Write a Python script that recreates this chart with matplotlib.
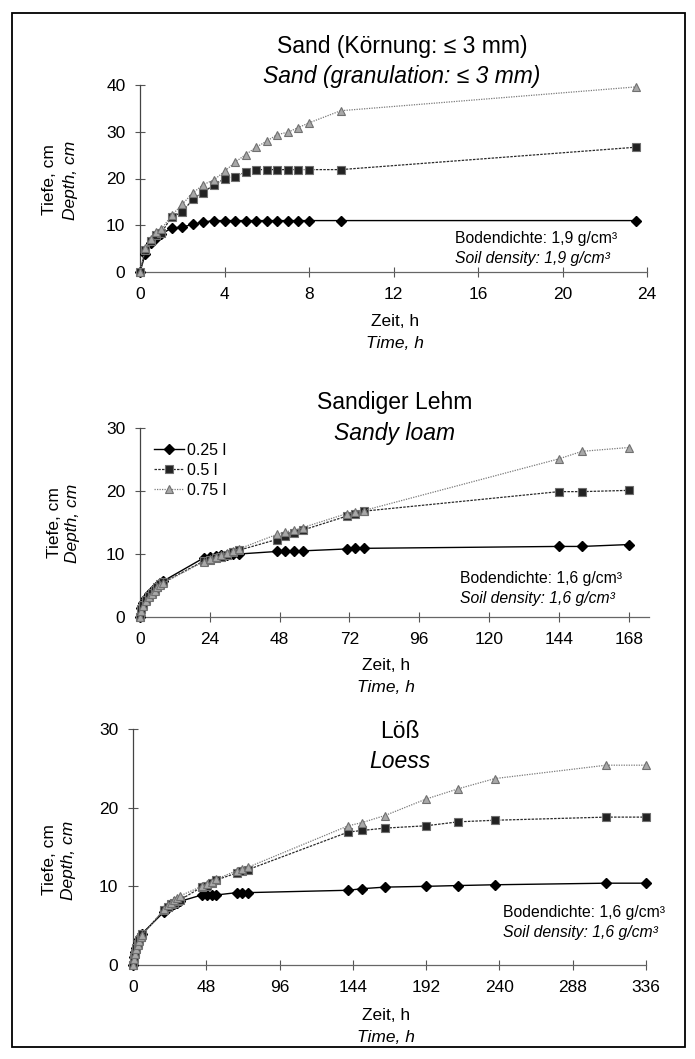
import matplotlib
matplotlib.use("Agg")
import matplotlib.pyplot as plt
from matplotlib.patches import Rectangle

plt.rcParams['font.family'] = ['Liberation Sans', 'DejaVu Sans']

# --- data: Sand (granulation <= 3 mm), hours / cm ---
sand_t = [0, 0.25, 0.5, 0.75, 1, 1.5, 2, 2.5, 3, 3.5, 4, 4.5, 5, 5.5, 6, 6.5, 7, 7.5, 8, 9.5, 23.5]
sand_025 = [0, 3.9, 6.3, 7.3, 8.1, 9.4, 9.6, 10.2, 10.7, 11.0, 11.0, 11.0, 11.0, 11.0, 11.0, 11.0, 11.0, 11.0, 11.0, 11.0, 11.0]
sand_05 = [0, 4.6, 6.6, 8.0, 8.3, 11.8, 12.8, 15.6, 17.0, 18.7, 19.9, 20.4, 21.4, 21.9, 21.9, 21.9, 21.9, 21.9, 21.9, 21.9, 26.7]
sand_075 = [0, 5.1, 7.1, 8.6, 9.1, 12.1, 14.5, 16.9, 18.7, 19.7, 21.5, 23.5, 25.1, 26.7, 28.0, 29.4, 29.9, 30.9, 31.9, 34.5, 39.6]

# --- data: Sandy loam ---
loam_t = [0, 0.5, 1, 2, 3, 4, 5, 6, 7, 8, 22, 24, 26, 28, 30, 32, 34, 47, 50, 53, 56, 71, 74, 77, 144, 152, 168]
loam_025 = [0, 1.5, 2.2, 3.0, 3.6, 4.1, 4.6, 5.0, 5.4, 5.7, 9.4, 9.6, 9.7, 9.8, 9.9, 10.0, 10.0, 10.4, 10.4, 10.4, 10.5, 10.8, 10.9, 10.9, 11.2, 11.2, 11.5]
loam_05 = [0, 1.2, 1.9, 2.7, 3.3, 3.8, 4.3, 4.8, 5.2, 5.5, 8.9, 9.1, 9.3, 9.6, 9.9, 10.3, 10.6, 12.3, 12.8, 13.4, 13.8, 16.0, 16.4, 16.8, 19.9, 19.9, 20.1]
loam_075 = [0, 1.0, 1.7, 2.5, 3.1, 3.7, 4.2, 4.7, 5.1, 5.4, 8.8, 9.2, 9.5, 9.8, 10.2, 10.5, 10.8, 13.1, 13.5, 13.8, 14.2, 16.4, 16.6, 16.9, 25.1, 26.3, 26.9]

# --- data: Loess ---
loess_t = [0, 0.5, 1, 2, 3, 4, 5, 6, 20.5, 23, 25, 27, 29, 31, 45, 48.5, 52, 54.5, 68, 71.5, 75, 141, 150, 165, 192, 213, 237, 310, 336]
loess_025 = [0, 1.0, 1.6, 2.2, 2.8, 3.3, 3.7, 4.0, 6.8, 7.2, 7.5, 7.7, 7.9, 8.1, 8.9, 8.9, 8.9, 8.9, 9.2, 9.2, 9.2, 9.5, 9.7, 9.9, 10.0, 10.1, 10.2, 10.4, 10.4]
loess_05 = [0, 0.9, 1.5, 2.1, 2.7, 3.2, 3.6, 3.9, 7.0, 7.4, 7.7, 7.9, 8.1, 8.3, 9.9, 10.1, 10.4, 10.8, 11.7, 11.9, 12.1, 16.9, 17.1, 17.4, 17.7, 18.2, 18.4, 18.8, 18.8]
loess_075 = [0, 0.8, 1.4, 2.0, 2.6, 3.1, 3.5, 3.8, 7.1, 7.6, 7.9, 8.2, 8.5, 8.8, 10.0, 10.3, 10.6, 10.9, 12.0, 12.2, 12.4, 17.7, 18.1, 19.0, 21.1, 22.4, 23.7, 25.4, 25.4]

labels = ["0.25 l", "0.5 l", "0.75 l"]

W, H = 695, 1059
def fx(p):
    return p / W
def fy(p):
    return 1 - p / H

fig = plt.figure(figsize=(W / 100, H / 100), dpi=100)

# outer frame
fig.patches.append(Rectangle((fx(12), fy(1047)), fx(685) - fx(12), fy(13) - fy(1047),
                             transform=fig.transFigure, fill=False, lw=1.3, ec='black'))

styles = [
    dict(color='black', ls='-', lw=1.0, marker='D', ms=5, mfc='black', mec='black'),
    dict(color='#2a2a2a', ls=(0, (2, 1)), lw=0.9, marker='s', ms=5.5, mfc='#222222', mec='#707070', mew=0.8),
    dict(color='#7a7a7a', ls=(0, (1, 1)), lw=0.9, marker='^', ms=5.5, mfc='#a8a8a8', mec='#707070', mew=0.8),
]

def panel(rect, t, series, xlim, xticks, ylim, yticks):
    ax = fig.add_axes(rect)
    for y, st, lab in zip(series, styles, labels):
        ax.plot(t, y, label=lab, clip_on=False, zorder=3, **st)
    ax.set_xlim(*xlim)
    ax.set_ylim(*ylim)
    ax.set_xticks(xticks)
    ax.set_yticks(yticks)
    for s in ['top', 'right']:
        ax.spines[s].set_visible(False)
    ax.spines['left'].set_color('#444444')
    ax.spines['bottom'].set_color('#666666')
    ax.spines['left'].set_linewidth(0.9)
    ax.spines['bottom'].set_linewidth(0.9)
    ax.tick_params(direction='inout', length=7, width=0.8, color='#555555',
                   labelsize=12.5, pad=7)
    ax.patch.set_alpha(0)
    return ax

ax1 = panel([fx(140), fy(272), fx(647) - fx(140), fy(85) - fy(272)],
            sand_t, [sand_025, sand_05, sand_075], (0, 24), range(0, 25, 4), (0, 40), range(0, 41, 10))
ax2 = panel([fx(140), fy(617), fx(649) - fx(140), fy(428) - fy(617)],
            loam_t, [loam_025, loam_05, loam_075], (0, 175), range(0, 169, 24), (0, 30), range(0, 31, 10))
ax3 = panel([fx(133), fy(965), fx(646) - fx(133), fy(729) - fy(965)],
            loess_t, [loess_025, loess_05, loess_075], (0, 336), range(0, 337, 48), (0, 30), range(0, 31, 10))

ax2.legend(loc='upper left', bbox_to_anchor=(fx(154), fy(443)), bbox_transform=fig.transFigure,
           frameon=False, fontsize=11.5, handlelength=1.9, handletextpad=0.15,
           labelspacing=0.3, borderaxespad=0, borderpad=0)

# titles
title_fs = 16.5
fig.text(fx(402), fy(47), "Sand (Körnung: ≤ 3 mm)", ha='center', va='center', fontsize=title_fs)
fig.text(fx(402), fy(76), "Sand (granulation: ≤ 3 mm)", ha='center', va='center', fontsize=title_fs, style='italic')
fig.text(fx(395), fy(403), "Sandiger Lehm", ha='center', va='center', fontsize=title_fs)
fig.text(fx(395), fy(433), "Sandy loam", ha='center', va='center', fontsize=title_fs, style='italic')
fig.text(fx(400), fy(732), "Löß", ha='center', va='center', fontsize=title_fs)
fig.text(fx(400), fy(762), "Loess", ha='center', va='center', fontsize=title_fs, style='italic')

# axis labels
lab_fs = 12.5
for cx, y1, y2 in [(395, 322, 343), (386, 665, 687), (386, 1015, 1037)]:
    fig.text(fx(cx), fy(y1), "Zeit, h", ha='center', va='center', fontsize=lab_fs)
    fig.text(fx(cx), fy(y2), "Time, h", ha='center', va='center', fontsize=lab_fs, style='italic')

for cy, xa, xb in [(180, 50, 71), (523, 55, 72), (860, 49, 69)]:
    fig.text(fx(xa), fy(cy), "Tiefe, cm", ha='center', va='center', rotation=90, fontsize=lab_fs)
    fig.text(fx(xb), fy(cy), "Depth, cm", ha='center', va='center', rotation=90, fontsize=lab_fs, style='italic')

# soil density notes
note_fs = 11.3
for x0, y1, y2, d in [(455, 238, 258, "1,9"), (460, 578, 598, "1,6"), (503, 913, 933, "1,6")]:
    fig.text(fx(x0), fy(y1), f"Bodendichte: {d} g/cm³", ha='left', va='center', fontsize=note_fs)
    fig.text(fx(x0), fy(y2), f"Soil density: {d} g/cm³", ha='left', va='center', fontsize=note_fs, style='italic')

fig.savefig("out.png", dpi=100, facecolor='white')
